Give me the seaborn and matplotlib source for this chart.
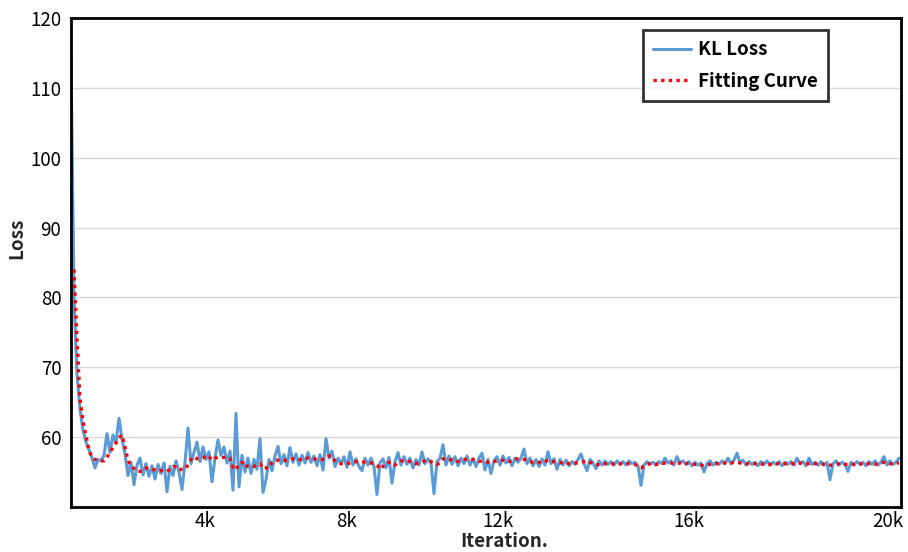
import numpy as np
import pandas as pd
import matplotlib
matplotlib.use("Agg")
import matplotlib.pyplot as plt
import seaborn as sns

# KL loss recorded at every logging step
kl_loss = [
    114.5, 80.0, 69.0, 64.0, 61.0, 59.3, 58.2, 57.0, 55.6, 56.8,
    56.6, 57.4, 60.5, 57.8, 60.3, 59.2, 62.7, 59.8, 57.6, 54.5,
    56.4, 53.2, 56.0, 57.0, 54.6, 56.2, 54.4, 55.9, 54.0, 56.1,
    54.8, 56.3, 52.2, 55.8, 54.5, 56.6, 55.0, 52.5, 56.4, 61.3,
    56.2, 57.8, 59.3, 56.5, 58.6, 56.8, 57.9, 53.6, 57.0, 59.6,
    57.4, 58.6, 56.3, 58.0, 52.4, 63.4, 52.9, 57.4, 55.0, 57.0,
    54.8, 56.8, 55.4, 59.8, 52.1, 53.9, 56.8, 55.2, 57.3, 58.7,
    56.2, 57.5, 55.9, 58.5, 56.4, 57.6, 56.0, 57.4, 56.3, 57.8,
    56.4, 57.3, 55.9, 57.5, 55.3, 59.8, 57.0, 58.0, 55.8, 57.0,
    56.2, 57.2, 55.7, 57.9, 56.0, 56.9, 55.8, 55.2, 57.0, 56.0,
    57.0, 55.8, 51.8, 56.3, 56.9, 55.6, 57.1, 53.4, 56.5, 57.8,
    56.0, 57.2, 56.1, 57.0, 55.6, 56.8, 56.0, 57.9, 56.2, 56.9,
    56.3, 51.9, 56.5, 57.0, 58.9, 56.0, 57.3, 56.1, 57.2, 55.9,
    57.0, 56.2, 57.3, 56.0, 56.9, 55.8, 57.0, 57.7, 55.3, 56.8,
    54.8, 56.6, 57.2, 56.0, 57.3, 56.3, 57.1, 55.9, 57.0, 56.4,
    57.0, 58.3, 56.2, 57.0, 55.9, 56.8, 55.8, 56.9, 56.0, 57.9,
    56.2, 56.9, 55.4, 56.8, 56.0, 56.7, 55.9, 56.5, 56.1, 56.8,
    57.6, 56.2, 55.2, 56.8, 56.3, 55.5, 56.6, 56.0, 56.6, 56.1,
    56.5, 56.0, 56.6, 56.1, 56.5, 56.0, 56.6, 56.2, 56.4, 55.9,
    53.1, 56.0, 56.5, 56.1, 56.4, 56.0, 56.5, 56.2, 57.0, 56.3,
    56.6, 56.0, 57.2, 56.3, 56.6, 56.1, 56.5, 55.9, 56.4, 56.0,
    56.3, 55.0, 56.2, 56.6, 56.0, 56.4, 56.1, 56.6, 56.2, 57.0,
    56.2, 56.7, 57.7, 56.3, 56.7, 56.0, 56.5, 56.1, 56.4, 55.9,
    56.5, 56.1, 56.6, 56.0, 56.4, 56.1, 56.5, 55.9, 56.4, 56.1,
    56.5, 56.0, 57.0, 56.2, 56.5, 55.9, 57.0, 56.1, 56.4, 56.0,
    56.5, 56.0, 56.4, 53.9, 56.2, 56.6, 56.0, 56.4, 56.1, 55.1,
    56.4, 56.0, 56.5, 56.1, 56.4, 55.9, 56.5, 56.1, 56.6, 56.0,
    56.4, 57.2, 56.0, 56.6, 56.1, 56.4, 57.0,
]

# smoothed fitting curve, starting one step after the first sample
fit_curve = [
    84.0, 74.0, 65.5, 62.3, 60.2, 58.1, 57.1, 56.8, 56.7,
    56.6, 56.6, 57.1, 57.9, 58.5, 59.2, 59.9, 60.3, 58.6, 56.7,
    55.8, 55.5, 55.1, 55.1, 55.2, 55.6, 55.4, 55.4, 55.3, 55.1,
    55.2, 55.2, 55.1, 55.4, 55.8, 55.7, 55.3, 55.4, 55.4, 56.0,
    56.8, 57.2, 56.9, 56.9, 57.0, 57.4, 57.2, 56.7, 57.0, 57.1,
    57.1, 57.1, 57.1, 57.0, 55.7, 55.3, 56.2, 56.4, 55.7, 55.9,
    55.9, 55.8, 56.0, 56.2, 55.5, 55.6, 55.6, 56.4, 56.7, 56.7,
    56.6, 56.6, 56.8, 56.8, 56.9, 56.8, 56.8, 56.7, 56.9, 57.0,
    56.9, 56.9, 56.8, 56.8, 56.8, 57.1, 57.3, 57.3, 56.6, 56.3,
    56.2, 56.2, 56.2, 56.3, 56.4, 56.5, 56.5, 56.5, 56.4, 56.3,
    56.3, 56.2, 56.0, 55.4, 55.8, 56.3, 56.4, 56.4, 56.0, 56.4,
    56.6, 56.6, 56.6, 56.5, 56.3, 56.2, 56.3, 56.4, 56.6, 56.7,
    56.5, 56.2, 56.1, 56.3, 56.9, 56.8, 56.7, 56.8, 56.6, 56.5,
    56.7, 56.8, 56.8, 56.8, 56.8, 56.7, 56.5, 56.6, 56.6, 56.4,
    56.4, 56.5, 56.6, 56.6, 56.7, 56.7, 56.5, 56.6, 56.9, 56.9,
    56.9, 56.8, 56.7, 56.5, 56.4, 56.4, 56.4, 56.3, 56.5, 56.7,
    56.5, 56.5, 56.4, 56.3, 56.4, 56.4, 56.2, 56.3, 56.3, 56.3,
    56.4, 56.5, 56.6, 56.4, 56.2, 56.0, 56.1, 56.2, 56.2, 56.1,
    56.1, 56.2, 56.2, 56.2, 56.2, 56.2, 56.2, 56.2, 56.1, 55.8,
    55.6, 55.9, 56.1, 56.2, 56.2, 56.1, 56.2, 56.2, 56.3, 56.3,
    56.3, 56.2, 56.2, 56.3, 56.2, 56.2, 56.3, 56.2, 56.1, 56.1,
    56.0, 55.9, 56.0, 56.1, 56.2, 56.2, 56.2, 56.3, 56.3, 56.3,
    56.3, 56.4, 56.4, 56.3, 56.3, 56.2, 56.2, 56.2, 56.2, 56.2,
    56.1, 56.2, 56.2, 56.1, 56.2, 56.2, 56.2, 56.1, 56.2, 56.2,
    56.2, 56.2, 56.3, 56.3, 56.2, 56.2, 56.2, 56.3, 56.2, 56.2,
    56.2, 56.1, 56.0, 56.0, 56.0, 56.1, 56.2, 56.2, 56.1, 56.1,
    56.2, 56.1, 56.1, 56.2, 56.1, 56.2, 56.2, 56.1, 56.1, 56.2,
    56.3, 56.4, 56.3, 56.2, 56.2, 56.3, 56.3,
]

# x-axis tick positions (in logging steps) and their labels
tick_steps = [44.67, 92.0, 142.33, 206.0, 272.33]
tick_labels = ["4k", "8k", "12k", "16k", "20k"]
y_ticks = [60, 70, 80, 90, 100, 110, 120]

steps = np.arange(len(kl_loss))
loss_df = pd.DataFrame({"step": steps, "loss": kl_loss})
fit_df = pd.DataFrame({"step": steps[1:1 + len(fit_curve)], "loss": fit_curve})

sns.set_theme(style="white")
plt.rcParams["font.family"] = ["Noto Sans CJK SC", "DejaVu Sans"]

fig = plt.figure(figsize=(9.08, 5.52), dpi=100)
ax = fig.add_axes([71 / 908, 45 / 552, 830 / 908, 489 / 552])

ax.yaxis.grid(True, color="#d9d9d9", linewidth=1.0)
ax.xaxis.grid(False)
ax.set_axisbelow(True)

sns.lineplot(data=loss_df, x="step", y="loss", ax=ax, color="#5B9BD5",
             linewidth=2.2, label="KL Loss", estimator=None)
sns.lineplot(data=fit_df, x="step", y="loss", ax=ax, color="#FF0000",
             linewidth=2.4, linestyle=(0, (1, 1.3)), label="Fitting Curve",
             estimator=None)

ax.set_xlim(0, 276.67)
ax.set_ylim(50, 120)
ax.set_yticks(y_ticks)
ax.set_yticklabels([str(v) for v in y_ticks])
ax.set_xticks(tick_steps)
ax.set_xticklabels(tick_labels)
ax.tick_params(axis="both", length=0, labelsize=13.5, colors="black")
ax.tick_params(axis="y", pad=7)
ax.tick_params(axis="x", pad=3)
for lab in ax.get_xticklabels() + ax.get_yticklabels():
    lab.set_fontweight("medium")

for side in ["left", "bottom", "top", "right"]:
    ax.spines[side].set_visible(True)
    ax.spines[side].set_color("black")
    ax.spines[side].set_linewidth(2.0)

ax.set_xlabel("Iteration.", fontsize=13.5, fontweight="bold")
ax.xaxis.set_label_coords(0.5217, -0.052)
ax.set_ylabel("Loss", fontsize=13.5, fontweight="bold")
ax.yaxis.set_label_coords(-0.054, 0.55)

leg = ax.legend(loc="upper left", bbox_to_anchor=(0.689, 0.9755),
                borderaxespad=0, frameon=True, fancybox=False,
                edgecolor="black", handlelength=2.0, handletextpad=0.4,
                labelspacing=0.68, borderpad=0.55,
                prop={"size": 13.5, "weight": "bold"})
leg.get_frame().set_linewidth(2.0)
for t in leg.get_texts():
    t.set_color("black")

fig.savefig("out.png", dpi=100)
